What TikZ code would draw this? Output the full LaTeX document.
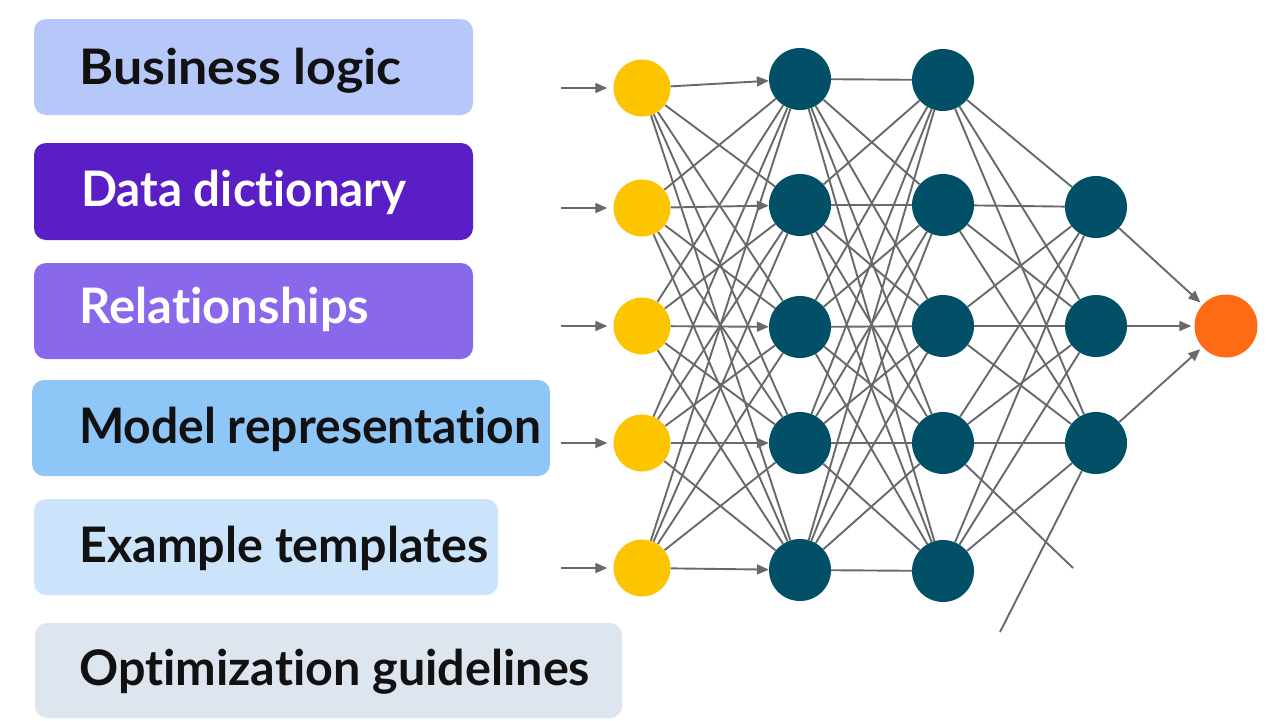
\documentclass[tikz,border=0pt]{standalone}
\usepackage{fontspec}
\usepackage{graphicx}
\setmainfont{Lato}[Ligatures=NoCommon]
\usetikzlibrary{arrows.meta,backgrounds}
\definecolor{bxA}{RGB}{182,199,250}
\definecolor{bxB}{RGB}{90,30,198}
\definecolor{bxC}{RGB}{138,104,236}
\definecolor{bxD}{RGB}{142,198,247}
\definecolor{bxE}{RGB}{204,228,251}
\definecolor{bxF}{RGB}{221,229,239}
\definecolor{inyel}{RGB}{253,197,0}
\definecolor{hidteal}{RGB}{2,79,104}
\definecolor{outor}{RGB}{255,106,20}
\definecolor{edgegray}{RGB}{105,105,105}
\definecolor{txtdark}{RGB}{17,17,17}
\tikzset{
  card/.style={rounded corners=12pt},
  lbl/.style={anchor=base west,inner sep=0pt,font=\fontsize{49}{54}\selectfont\bfseries},
  inneuron/.style={circle,fill=inyel,minimum size=57pt,inner sep=0pt},
  hidneuron/.style={circle,fill=hidteal,minimum size=62pt,inner sep=0pt},
  outneuron/.style={circle,fill=outor,minimum size=63pt,inner sep=0pt},
  edge/.style={draw=edgegray,line width=1.9pt},
  arr/.style={-{Triangle[length=12pt,width=10pt]}},
}
\begin{document}
\begin{tikzpicture}[x=1pt,y=-1pt]
\useasboundingbox (0,0) rectangle (1281,720);
% cards
\fill[card,bxA] (34,19) rectangle (473,115);
\fill[card,bxB] (34,143) rectangle (473,240);
\fill[card,bxC] (34,263) rectangle (473,359);
\fill[card,bxD] (32,380) rectangle (550,476);
\fill[card,bxE] (34,499) rectangle (498,595);
\fill[card,bxF] (35,623) rectangle (622,718);
\node[lbl,text=txtdark] (t1) at (79,84) {\scalebox{1.06}[1]{Business logic}};
\node[lbl,text=white] (t2) at (81,206) {\scalebox{0.97}[1]{Data dictionary}};
\node[lbl,text=white] (t3) at (79,323) {Relationships};
\node[lbl,text=txtdark] (t4) at (79,443) {\scalebox{0.98}[1]{Model representation}};
\node[lbl,text=txtdark] (t5) at (79,562) {\scalebox{0.99}[1]{Example templates}};
\node[lbl,text=txtdark] (t6) at (79,685) {\scalebox{0.99}[1]{Optimization guidelines}};
% neurons
\node[inneuron] (i1) at (642,88) {};
\node[inneuron] (i2) at (642,208) {};
\node[inneuron] (i3) at (642,326) {};
\node[inneuron] (i4) at (642,443) {};
\node[inneuron] (i5) at (642,568) {};
\node[hidneuron] (a1) at (800,79) {};
\node[hidneuron] (a2) at (800,205) {};
\node[hidneuron] (a3) at (800,327) {};
\node[hidneuron] (a4) at (800,443) {};
\node[hidneuron] (a5) at (800,570) {};
\node[hidneuron] (b1) at (943,80) {};
\node[hidneuron] (b2) at (943,205) {};
\node[hidneuron] (b3) at (943,326) {};
\node[hidneuron] (b4) at (943,443) {};
\node[hidneuron] (b5) at (943,571) {};
\node[hidneuron] (c1) at (1096,207) {};
\node[hidneuron] (c2) at (1096,326) {};
\node[hidneuron] (c3) at (1096,443) {};
\node[outneuron] (o) at (1226,326) {};
% input stubs
\coordinate (s1) at (561,88);
\coordinate (s2) at (561,208);
\coordinate (s3) at (561,326);
\coordinate (s4) at (561,443);
\coordinate (s5) at (561,568);
\coordinate (e1) at (1000,632);
\coordinate (e2) at (1073,568);
\begin{scope}[on background layer]
\fill[white] (0,0) rectangle (1281,720);
\foreach \k in {1,...,5}{\draw[edge,arr,shorten >=6pt] (s\k) -- (i\k);}
\foreach \p in {1,...,5}{\foreach \q in {1,...,5}{%
  \ifnum\p=\q\relax \draw[edge,arr] (i\p) -- (a\q);\else \draw[edge] (i\p) -- (a\q);\fi
  \draw[edge] (a\p) -- (b\q);}}
\foreach \p in {1,...,5}{\foreach \q in {1,2,3}{\draw[edge] (b\p) -- (c\q);}}
\foreach \q in {1,2,3}{\draw[edge,arr,shorten >=3pt] (c\q) -- (o);}
\draw[edge] (c3) -- (e1);
\draw[edge] (b4) -- (e2);
\end{scope}
\end{tikzpicture}
\end{document}
